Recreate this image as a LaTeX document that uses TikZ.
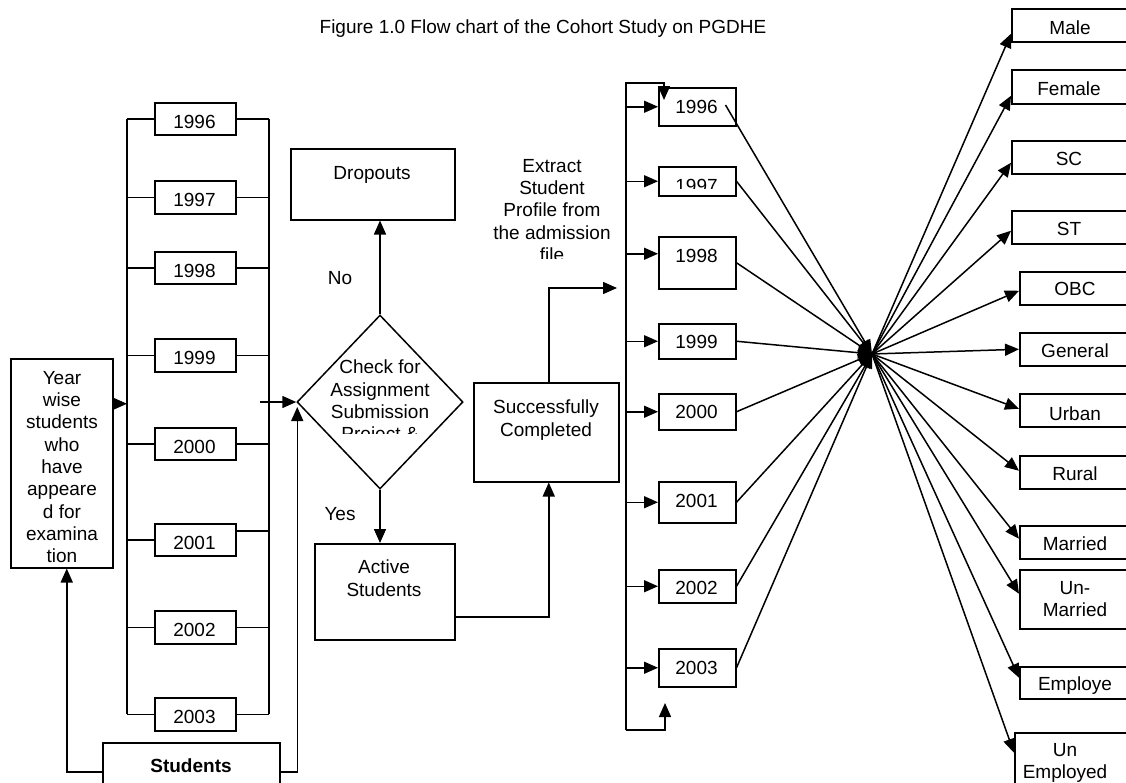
\documentclass[tikz,border=0pt]{standalone}
\usepackage{fontspec}
\setmainfont{Liberation Sans}
\usetikzlibrary{arrows.meta,calc,shapes.geometric}
\begin{document}
\begin{tikzpicture}[x=1pt,y=-1pt,
 bx/.style={draw, line width=1.5pt, rectangle, inner sep=0pt, anchor=north west},
 tx/.style={inner sep=0pt, align=center, font=\fontsize{19}{22.3}\selectfont},
 ln/.style={line width=1.5pt},
 arr/.style={line width=1.5pt, -{Triangle[length=14pt,width=12pt]}},
]
\useasboundingbox (0,0) rectangle (1126,782);
\fill[white] (0,0) rectangle (1126,782);
\clip (0,0) rectangle (1126,782);

% title
\node[tx,anchor=base] (title) at (543,33) {Figure 1.0 Flow chart of the Cohort Study on PGDHE};

% left year boxes
\node[bx,minimum width=81pt,minimum height=32pt] (L96) at (154,102) {};
\node[bx,minimum width=81pt,minimum height=33pt] (L97) at (154,180) {};
\node[bx,minimum width=81pt,minimum height=32pt] (L98) at (154,251) {};
\node[bx,minimum width=81pt,minimum height=33pt] (L99) at (154,338) {};
\node[bx,minimum width=81pt,minimum height=32pt] (L00) at (154,427) {};
\node[bx,minimum width=81pt,minimum height=32pt] (L01) at (154,523) {};
\node[bx,minimum width=81pt,minimum height=33pt] (L02) at (154,610) {};
\node[bx,minimum width=81pt,minimum height=33pt] (L03) at (154,697) {};
\node[tx,anchor=base] (L96t) at (194.5,128.5) {1996};
\node[tx,anchor=base] (L97t) at (194.5,206.5) {1997};
\node[tx,anchor=base] (L98t) at (194.5,277.5) {1998};
\node[tx,anchor=base] (L99t) at (194.5,364.5) {1999};
\node[tx,anchor=base] (L00t) at (194.5,453.5) {2000};
\node[tx,anchor=base] (L01t) at (194.5,549.5) {2001};
\node[tx,anchor=base] (L02t) at (194.5,636.5) {2002};
\node[tx,anchor=base] (L03t) at (194.5,723.5) {2003};

% buses
\coordinate (lbx) at (127,0);
\coordinate (rbx) at (269,0);
\draw[ln] (lbx |- L96.west) -- (lbx |- L03.west);
\draw[ln] (rbx |- L96.east) -- (rbx |- L03.east);
\foreach \n in {L96,L97,L98,L99,L00,L02,L03}{
  \draw[ln] (lbx |- \n.west) -- (\n.west);
  \draw[ln] (\n.east) -- (rbx |- \n.east);
}
\draw[ln] (lbx |- L01.west) -- (L01.west);
\coordinate (l01e) at ($(L01.east)+(0,-9)$);
\draw[ln] (l01e) -- (rbx |- l01e);

% year-wise box
\node[bx,minimum width=102pt,minimum height=209pt] (year) at (10,358) {};
\begin{scope}
\clip (12,360) rectangle (110,563);
\node[tx,anchor=north] (yeart) at (62,371) {Year\\wise\\students\\who\\have\\appeare\\d for\\examina\\tion};
\end{scope}
\coordinate (yarr) at ($(year.east)+(0,-59.5)$);
\draw[arr] (yarr) -- (yarr -| lbx);

% students
\node[bx,minimum width=177pt,minimum height=58pt] (stud) at (102,742) {};
\node[tx,anchor=base,font=\fontsize{19}{22.3}\selectfont\bfseries] (studt) at (191,772) {Students};

% diamond
\node[diamond,draw,line width=1.5pt,minimum width=166pt,minimum height=174pt,inner sep=0pt] (chk) at (380,402) {};
\begin{scope}
\clip (297,315) rectangle (463,433);
\node[tx,anchor=north] (chkt) at (380,360) {Check for\\Assignment\\Submission\\Project \&};
\end{scope}
\coordinate (dtmp) at (rbx |- chk.west);
\coordinate (dstart) at ($(dtmp)+(-9,0)$);
\draw[arr] (dstart) -- (chk.west);
\draw[arr] (stud.west) -| ([xshift=5pt]year.south);
\coordinate (dtip) at ($(chk.west)+(1,5)$);
\draw[arr] (stud.east) -| (dtip);

% dropouts / active / success
\node[bx,minimum width=164pt,minimum height=71pt] (drop) at (290,148) {};
\node[tx,anchor=base] (dropt) at (372,179) {Dropouts};
\node[bx,minimum width=140pt,minimum height=96pt] (act) at (314,543) {};
\node[tx,anchor=north] (actt) at (384,560) {Active\\Students};
\node[bx,minimum width=145pt,minimum height=99pt] (succ) at (473,382) {};
\node[tx,anchor=north] (succt) at (546,400) {Successfully\\Completed};
\node[tx,anchor=base] (no) at (340,284) {No};
\node[tx,anchor=base] (yes) at (340,520) {Yes};
\draw[arr] (chk.north) -- (chk.north |- drop.south);
\draw[arr] (chk.south) -- (chk.south |- act.north);
\coordinate (aout) at ($(act.east)+(0,25)$);
\coordinate (sin) at ($(succ.south)+(2.5,0)$);
\draw[arr] (aout) -| (sin);
\coordinate (sout) at ($(succ.north)+(2.5,0)$);
\coordinate (succend) at (617,288);
\draw[arr] (sout) |- (succend);

% extract text
\begin{scope}
\clip (470,130) rectangle (622,258);
\node[tx,anchor=north] (ext) at (552,159) {Extract\\Student\\Profile from\\the admission\\file};
\end{scope}

% right year boxes
\node[bx,minimum width=77pt,minimum height=38pt] (R96) at (658,87) {};
\node[bx,minimum width=77pt,minimum height=29pt] (R97) at (658,166) {};
\node[bx,minimum width=77pt,minimum height=52pt] (R98) at (658,236) {};
\node[bx,minimum width=77pt,minimum height=35pt] (R99) at (658,323) {};
\node[bx,minimum width=77pt,minimum height=36pt] (R00) at (658,393) {};
\node[bx,minimum width=77pt,minimum height=41pt] (R01) at (658,481) {};
\node[bx,minimum width=77pt,minimum height=33pt] (R02) at (658,569) {};
\node[bx,minimum width=77pt,minimum height=38pt] (R03) at (658,648) {};
\node[tx,anchor=base] (R96t) at (696.5,113) {1996};
\begin{scope}
\clip (659,167) rectangle (734,188);
\node[tx,anchor=base] (R97t) at (696.5,192) {1997};
\end{scope}
\node[tx,anchor=base] (R98t) at (696.5,262) {1998};
\node[tx,anchor=base] (R99t) at (696.5,348) {1999};
\node[tx,anchor=base] (R00t) at (696.5,418) {2000};
\node[tx,anchor=base] (R01t) at (696.5,507) {2001};
\node[tx,anchor=base] (R02t) at (696.5,594) {2002};
\node[tx,anchor=base] (R03t) at (696.5,674) {2003};

% right bus
\coordinate (rtop) at (626,83);
\coordinate (rbot) at (626,730);
\coordinate (rend) at (665,703);
\coordinate (r96in) at ($(R96.north west)+(6,13)$);
\draw[arr] (rbot) -- (rtop) -| (r96in);
\draw[arr] (rbot) -| (rend);
\foreach \n in {R96,R97,R99,R00,R01,R02,R03}{
  \draw[arr] (rtop |- \n.west) -- (\n.west);
}
\coordinate (r98a) at ($(R98.west)+(0,-9)$);
\draw[arr] (rtop |- r98a) -- (r98a);

% hub
\coordinate (hub) at (872,354);
\coordinate (r96o) at ($(R96.north east)+(-11,18)$);
\draw[arr] (r96o) -- (hub);
\foreach \n in {R97,R98,R99,R00,R01,R02,R03}{
  \draw[arr] (\n.east) -- (hub);
}

% attribute boxes
\node[bx,minimum width=118pt,minimum height=33pt] (male) at (1011,8) {};
\node[bx,minimum width=118pt,minimum height=34pt] (female) at (1011,69) {};
\node[bx,minimum width=118pt,minimum height=33pt] (sc) at (1011,140) {};
\node[bx,minimum width=118pt,minimum height=33pt] (st) at (1011,210) {};
\node[bx,minimum width=112pt,minimum height=33pt] (obc) at (1019,271) {};
\node[bx,minimum width=112pt,minimum height=33pt] (gen) at (1019,332) {};
\node[bx,minimum width=112pt,minimum height=33pt] (urb) at (1019,393) {};
\node[bx,minimum width=112pt,minimum height=33pt] (rur) at (1019,455) {};
\node[bx,minimum width=112pt,minimum height=33pt] (mar) at (1019,525) {};
\node[bx,minimum width=112pt,minimum height=59pt] (umar) at (1019,569) {};
\node[bx,minimum width=112pt,minimum height=32pt] (emp) at (1019,666) {};
\node[bx,minimum width=117pt,minimum height=70pt] (uemp) at (1014,732) {};
\node[tx,anchor=base] (malet) at (1070,34) {Male};
\node[tx,anchor=base] (femalet) at (1069,95) {Female};
\node[tx,anchor=base] (sct) at (1069,165) {SC};
\node[tx,anchor=base] (stt) at (1069,235) {ST};
\node[tx,anchor=base] (obct) at (1075,295) {OBC};
\node[tx,anchor=base] (gent) at (1075,357) {General};
\node[tx,anchor=base] (urbt) at (1075,420) {Urban};
\node[tx,anchor=base] (rurt) at (1075,480) {Rural};
\node[tx,anchor=base] (mart) at (1075,550) {Married};
\node[tx,anchor=north] (umart) at (1075,581) {Un-\\Married};
\node[tx,anchor=base] (empt) at (1075,690) {Employe};
\node[tx,anchor=north] (uempt) at (1065,743) {Un\\Employed};

\draw[arr] (hub) -- ([yshift=-8.5pt]male.west);
\draw[arr] (hub) -- ([yshift=-9pt]female.west);
\draw[arr] (hub) -- ([yshift=-5.5pt]sc.west);
\draw[arr] (hub) -- ([yshift=-3.5pt]st.west);
\draw[arr] (hub) -- ([yshift=-2.5pt]obc.west);
\draw[arr] (hub) -- (gen.west);
\draw[arr] (hub) -- ([yshift=1.5pt]urb.west);
\draw[arr] (hub) -- ([yshift=1.5pt]rur.west);
\draw[arr] (hub) -- ([yshift=3.5pt]mar.west);
\draw[arr] (hub) -- ([yshift=5.5pt]umar.west);
\draw[arr] (hub) -- ([yshift=5pt]emp.west);
\draw[arr] (hub) -- ([yshift=15pt]uemp.west);
\end{tikzpicture}
\end{document}
